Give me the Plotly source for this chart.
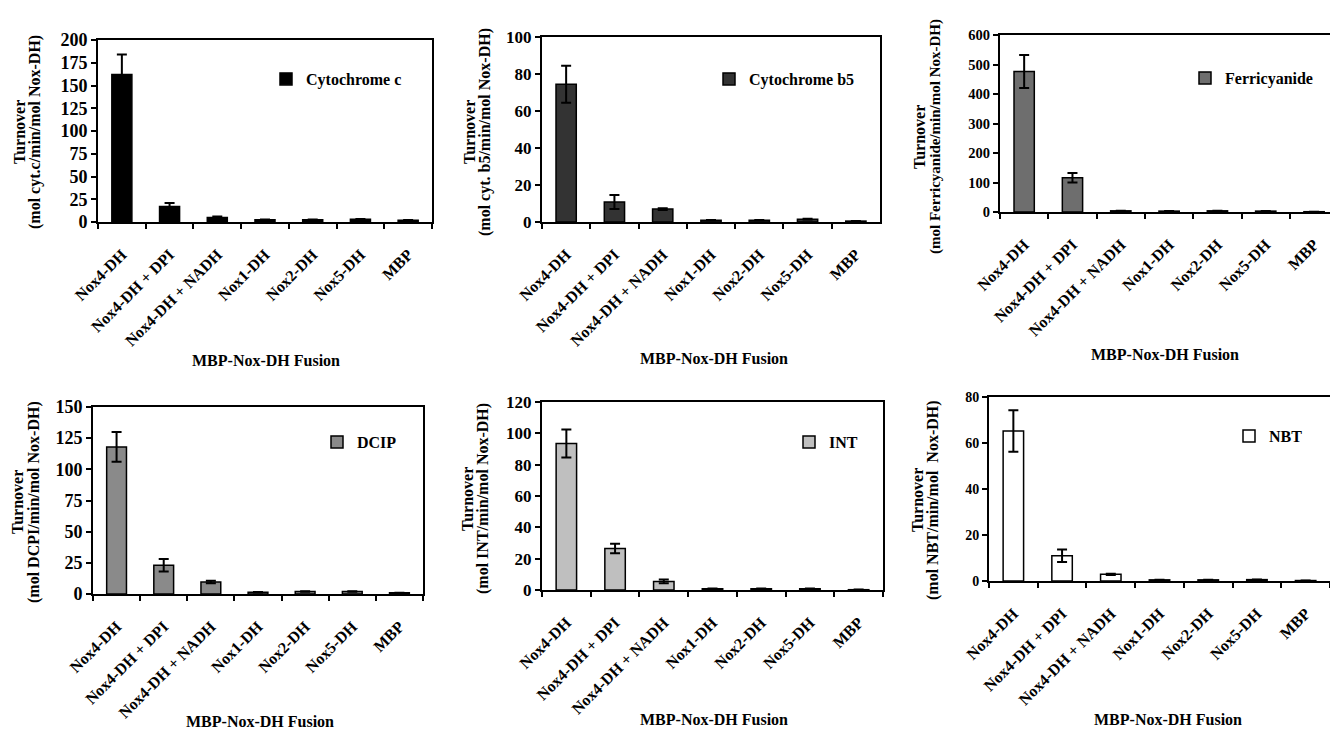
import plotly.graph_objects as go

W, H = 1330, 730

categories = ["Nox4-DH", "Nox4-DH + DPI", "Nox4-DH + NADH", "Nox1-DH", "Nox2-DH", "Nox5-DH", "MBP"]

cytc_vals = [162, 17, 5, 2.5, 2.5, 3, 2]
cytc_err = [22, 4, 1, 0.3, 0.3, 0.3, 0.2]
cytb5_vals = [74.5, 10.8, 7, 1, 1, 1.5, 0.5]
cytb5_err = [10, 3.8, 0.5, 0.1, 0.1, 0.2, 0.1]
ferri_vals = [476, 116, 4, 3, 4, 3, 1]
ferri_err = [56, 16, 0.5, 0.3, 0.3, 0.3, 0.1]
dcip_vals = [118, 23, 9.6, 1.5, 2, 2, 1]
dcip_err = [12, 5, 1, 0.2, 0.2, 0.2, 0.1]
int_vals = [93.5, 26.5, 5.5, 0.8, 0.8, 0.8, 0.2]
int_err = [9, 3, 1.2, 0.1, 0.1, 0.1, 0.05]
nbt_vals = [65.2, 11, 2.9, 0.5, 0.5, 0.6, 0.2]
nbt_err = [9, 2.7, 0.3, 0.05, 0.05, 0.05, 0.02]

series_names = ["Cytochrome c", "Cytochrome b5", "Ferricyanide", "DCIP", "INT", "NBT"]
bar_colors = ["#000000", "#333333", "#6e6e6e", "#8a8a8a", "#bfbfbf", "#ffffff"]
y_max = [200, 100, 600, 150, 120, 80]
y_dtick = [25, 20, 100, 25, 20, 20]
y_titles = ["(mol cyt.c/min/mol Nox-DH)", "(mol cyt. b5/min/mol Nox-DH)",
            "(mol Ferricyanide/min/mol Nox-DH)", "(mol DCPI/min/mol Nox-DH)",
            "(mol INT/min/mol Nox-DH)", "(mol NBT/min/mol  Nox-DH)"]
x_title = "MBP-Nox-DH Fusion"

all_vals = [cytc_vals, cytb5_vals, ferri_vals, dcip_vals, int_vals, nbt_vals]
all_errs = [cytc_err, cytb5_err, ferri_err, dcip_err, int_err, nbt_err]

# layout geometry in pixels: (x_left, x_right, y_top, y_bottom)
boxes = [(98, 432, 40, 222), (542, 880, 37, 222), (1000, 1330, 35, 212),
         (93, 423, 407, 594), (542, 883, 402, 590), (989, 1330, 397, 581)]
x_ranges = [[-0.5, 6.5], [-0.5, 6.5], [-0.5, 6.33], [-0.5, 6.5], [-0.5, 6.5], [-0.5, 6.5]]
tick_sizes = [18, 17, 14.5, 18, 17, 14]
legend_pos = [(266, 79), (709, 79), (1185, 78), (317, 442), (789, 442), (1229, 436)]
ytitle_pos = [(19, 35, 132), (469, 485, 132), (920, 936, 137),
              (18, 34, 502), (467, 483, 499), (917, 933, 500)]
xtitle_pos = [(266, 360), (714, 358), (1165, 355), (260, 721), (714, 719), (1168, 719)]

FONT = "Liberation Serif, Times New Roman, serif"

fig = go.Figure()
layout = dict(width=W, height=H, margin=dict(l=0, r=0, t=0, b=0, autoexpand=False),
              paper_bgcolor="white", plot_bgcolor="white", showlegend=True,
              font=dict(family=FONT, color="black", weight="bold"), bargap=0.58)
annotations = []

for i in range(6):
    sfx = "" if i == 0 else str(i + 1)
    x0, x1, yt, yb = boxes[i]
    fig.add_trace(go.Bar(
        x=categories, y=all_vals[i], name=series_names[i],
        xaxis="x" + sfx, yaxis="y" + sfx, legend="legend" + sfx,
        width=0.42,
        marker=dict(color=bar_colors[i], line=dict(color="black", width=1.5)),
        error_y=dict(type="data", array=all_errs[i], color="black", thickness=2, width=5),
    ))
    layout["xaxis" + sfx] = dict(
        domain=[x0 / W, min(x1 / W, 1)], anchor="y" + sfx, type="category",
        range=x_ranges[i], showline=True, linecolor="black", linewidth=2, mirror=True,
        ticks="outside", ticklen=5, tickwidth=2, tickcolor="black", tickson="boundaries",
        tickangle=-45, ticklabelstandoff=15, automargin=False,
        tickfont=dict(family=FONT, size=16, color="black", weight="bold"),
        showgrid=False, zeroline=False, fixedrange=True)
    layout["yaxis" + sfx] = dict(
        domain=[1 - yb / H, 1 - yt / H], anchor="x" + sfx, automargin=False,
        range=[0, y_max[i]], dtick=y_dtick[i], showline=True, linecolor="black",
        linewidth=2, mirror=True, ticks="outside", ticklen=5, tickwidth=2,
        tickcolor="black", showgrid=False, zeroline=False,
        tickfont=dict(family=FONT, size=tick_sizes[i], color="black", weight="bold"))
    lx, ly = legend_pos[i]
    layout["legend" + sfx] = dict(
        x=lx / W, y=1 - ly / H, xanchor="left", yanchor="middle",
        bgcolor="rgba(0,0,0,0)", borderwidth=0, itemwidth=30,
        font=dict(family=FONT, size=16, color="black", weight="bold"))
    tx1, tx2, ty = ytitle_pos[i]
    annotations.append(dict(x=tx1 / W, y=1 - ty / H, xref="paper", yref="paper",
                            text="Turnover", textangle=-90, showarrow=False,
                            xanchor="center", yanchor="middle",
                            font=dict(family=FONT, size=16, color="black", weight="bold")))
    annotations.append(dict(x=tx2 / W, y=1 - ty / H, xref="paper", yref="paper",
                            text=y_titles[i], textangle=-90, showarrow=False,
                            xanchor="center", yanchor="middle",
                            font=dict(family=FONT, size=16 if i != 2 else 15, color="black", weight="bold")))
    ax, ay = xtitle_pos[i]
    annotations.append(dict(x=ax / W, y=1 - ay / H, xref="paper", yref="paper",
                            text=x_title, showarrow=False, xanchor="center", yanchor="middle",
                            font=dict(family=FONT, size=16, color="black", weight="bold")))

layout["annotations"] = annotations
fig.update_layout(**layout)
fig.write_html("out.html", config={"displayModeBar": False},
               post_script="document.body.style.margin='0px';document.body.style.overflow='hidden';")
